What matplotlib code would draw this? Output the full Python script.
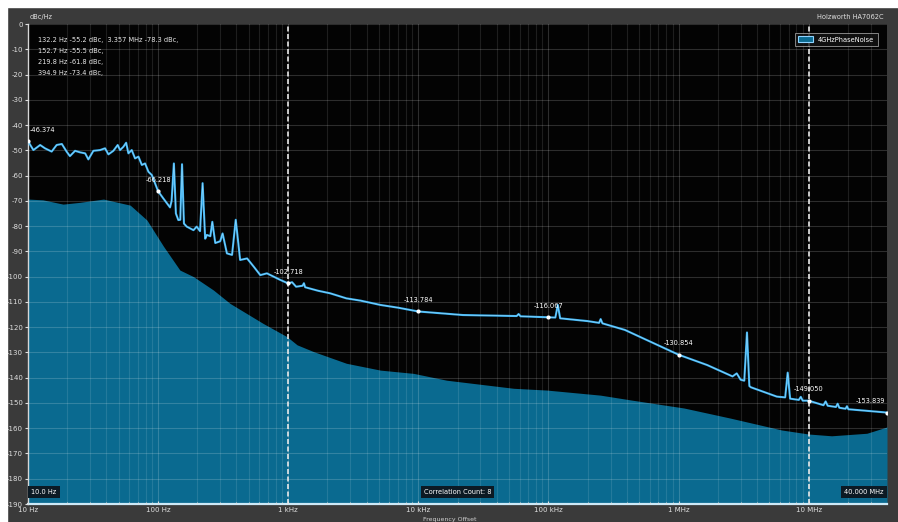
import numpy as np
import matplotlib.pyplot as plt
from matplotlib.patches import Patch, Rectangle
from matplotlib.ticker import FixedLocator, NullFormatter

# DATOS ---------------------------------------------------------------
# Traza medida de ruido de fase (Hz, dBc/Hz)
traza_f = [10, 11, 12.4, 13.5, 15.2, 16.6, 18.2, 19.8, 21, 23, 25.1, 27.5, 29.1,
           31.8, 35.8, 39.1, 41.5, 45.3, 48.9, 51, 54.1, 56.8, 59.1, 62.7, 66.5,
           70.6, 75, 79.4, 84.3, 89.5, 100, 109.5, 123.5, 127, 132.2, 137, 143,
           148, 152.7, 158, 166, 187, 198, 210, 219.8, 230, 237, 252, 261, 275,
           300, 313, 338, 370, 395, 427, 483, 544, 610, 686, 772, 869, 1000,
           1070, 1150, 1290, 1320, 1350, 1700, 2100, 2800, 3600, 5100, 7000,
           10e3, 22e3, 57e3, 59e3, 61e3, 100e3, 113e3, 118e3, 123e3, 200e3,
           245e3, 252e3, 260e3, 387e3, 1e6, 1.66e6, 2.6e6, 2.8e6, 3.0e6, 3.2e6,
           3.357e6, 3.5e6, 3.6e6, 5.7e6, 6.6e6, 6.9e6, 7.2e6, 8.4e6, 8.7e6,
           9.0e6, 10e6, 13e6, 13.5e6, 14e6, 16.2e6, 16.7e6, 17.2e6, 19.2e6,
           19.7e6, 20.2e6, 40e6]
traza_db = [-46.4, -49.9, -47.9, -49.2, -50.5, -47.9, -47.5, -50.5, -52.3, -50.2,
            -50.8, -51.2, -53.6, -50.2, -49.9, -49.2, -51.6, -50.2, -47.9, -49.9,
            -48.6, -47.0, -51.2, -49.9, -53.2, -52.5, -55.8, -55.2, -58.5, -59.8,
            -66.2, -69.0, -72.6, -70.0, -55.2, -75.0, -77.6, -77.5, -55.5, -79.0,
            -80.2, -81.6, -80.2, -82.0, -63.0, -85.0, -83.5, -84.0, -78.3, -86.7,
            -86.0, -82.9, -90.8, -91.4, -77.5, -93.4, -92.8, -96.1, -99.4, -98.7,
            -100.0, -101.3, -102.7, -102.2, -104.0, -103.6, -102.6, -104.2,
            -105.6, -106.6, -108.6, -109.5, -111.2, -112.3, -113.8, -115.2,
            -115.6, -114.8, -115.7, -116.1, -116.2, -111.2, -116.5, -117.6,
            -118.3, -116.8, -118.5, -121.1, -130.9, -135.0, -139.5, -138.3,
            -140.8, -141.2, -122.1, -143.3, -143.8, -147.5, -147.8, -138.0,
            -148.3, -148.8, -147.6, -149.1, -149.1, -150.9, -149.4, -151.1,
            -151.6, -150.3, -151.9, -152.3, -151.3, -152.5, -153.8]

# Limite inferior del sistema (relleno)
fondo_f = [10, 13, 18.6, 25, 38, 61, 82, 110, 147, 187, 266, 357, 480, 640, 980,
           1170, 1570, 2800, 5100, 9200, 16.5e3, 54e3, 97e3, 250e3, 440e3,
           1.1e6, 2.5e6, 6.2e6, 10e6, 15e6, 28e6, 40e6]
fondo_db = [-69.3, -69.6, -71.3, -70.6, -69.3, -71.7, -77.6, -88.0, -97.4,
            -100.0, -105.3, -110.6, -114.6, -118.5, -123.8, -127.0, -129.7,
            -134.3, -137.0, -138.3, -141.0, -144.2, -144.9, -146.9, -148.9,
            -152.0, -156.0, -160.7, -162.3, -163.0, -162.0, -159.5]

# Marcadores
marca_f = [10, 100, 1e3, 10e3, 100e3, 1e6, 10e6, 40e6]
marca_db = [-46.374, -66.218, -102.718, -113.784, -116.067, -130.854, -149.050, -153.839]

# Espurias listadas
espurias = ['132.2 Hz -55.2 dBc,  3.357 MHz -78.3 dBc,',
            '152.7 Hz -55.5 dBc,',
            '219.8 Hz -61.8 dBc,',
            '394.9 Hz -73.4 dBc,']

xt_val = [10, 100, 1e3, 10e3, 100e3, 1e6, 10e6]
xt_txt = ['10 Hz', '100 Hz', '1 kHz', '10 kHz', '100 kHz', '1 MHz', '10 MHz']
yt_val = list(range(0, -200, -10))

# GRAFICA ---------------------------------------------------------------
W, H = 898, 522
fig = plt.figure(figsize=(W / 100, H / 100), dpi=100, facecolor='#3a3a3a')

def px(x, y):
    return x / W, 1 - y / H

# borde blanco superior e izquierdo
fig.patches.append(Rectangle((0, 1 - 7 / H), 1, 7 / H, transform=fig.transFigure,
                             color='white', zorder=0))
fig.patches.append(Rectangle((0, 0), 7 / W, 1, transform=fig.transFigure,
                             color='white', zorder=0))

x0, x1, yt, yb = 28, 887, 24, 504
ax = fig.add_axes([x0 / W, 1 - yb / H, (x1 - x0) / W, (yb - yt) / H])
ax.set_facecolor('#030303')
ax.set_xscale('log')
ax.set_xlim(10, 40e6)
ax.set_ylim(-190, 0)

teal = '#0a6a90'
azul = '#36aff0'
ax.fill_between(fondo_f, fondo_db, -190, color=teal, lw=0, zorder=1)

# rejilla
ax.set_yticks(yt_val)
ax.set_yticklabels([str(v) for v in yt_val])
ax.set_xticks(xt_val)
ax.set_xticklabels(xt_txt)
menores = [m * 10 ** d for d in range(1, 8) for m in range(2, 10) if m * 10 ** d < 40e6]
ax.xaxis.set_minor_locator(FixedLocator(menores))
ax.xaxis.set_minor_formatter(NullFormatter())
ax.grid(True, which='major', color='white', alpha=0.17, lw=0.8, zorder=2)
ax.grid(True, which='minor', color='white', alpha=0.11, lw=0.8, zorder=2)
ax.set_axisbelow(False)
for fv in (1e3, 10e6):
    ax.axvline(fv, color='#e8e8e8', lw=1.2, ls=(0, (3, 1.5)), zorder=2.6)

# traza con brillo
ax.plot(traza_f, traza_db, color=azul, lw=1.5, zorder=3, solid_joinstyle='round')
ax.plot(traza_f, traza_db, color='#a6e0ff', lw=0.5, zorder=3.1, alpha=0.8)

# marcadores
ax.scatter(marca_f, marca_db, s=9, color='white', zorder=4, lw=0)
for i, (fv, dv) in enumerate(zip(marca_f, marca_db)):
    ha = 'center'
    dx = 0
    if i == 0:
        ha, dx = 'left', 1
    elif i == len(marca_f) - 1:
        ha, dx = 'right', -1
    ax.annotate(f'{dv:.3f}', (fv, dv), xytext=(dx, 6), textcoords='offset points',
                ha=ha, va='bottom', fontsize=4.8, color='white', zorder=5)

# ejes
for s in ('top', 'right'):
    ax.spines[s].set_visible(False)
ax.spines['left'].set_color('#d0d0d0')
ax.spines['left'].set_linewidth(1.0)
ax.spines['bottom'].set_color('#cde9f7')
ax.spines['bottom'].set_linewidth(1.6)
ax.tick_params(axis='y', colors='#e0e0e0', labelsize=5, length=2, pad=1.5)
ax.tick_params(axis='x', which='major', colors='#e0e0e0', labelsize=5, length=2,
               pad=2, direction='in')
ax.tick_params(axis='x', which='minor', colors='#e0e0e0', length=1.5, direction='in')
ax.tick_params(axis='x', which='minor', labelbottom=False)

# textos
fig.text(*px(30, 17), 'dBc/Hz', fontsize=4.8, color='#e0e0e0', va='center')
fig.text(*px(884, 17), 'Holzworth HA7062C', fontsize=4.8, color='#e0e0e0',
         va='center', ha='right')
fig.text(*px(450, 519), 'Frequency Offset', fontsize=4.5, color='#d0d0d0',
         va='center', ha='center')
for k, t in enumerate(espurias):
    fig.text(*px(38, 40 + k * 11), t, fontsize=4.8, color='#e8e8e8', va='center')

caja = dict(boxstyle='square,pad=0.45', fc='#0c1a24', ec='none')
ax.text(0.004, 0.018, '10.0 Hz', transform=ax.transAxes, fontsize=4.8,
        color='white', va='bottom', ha='left', bbox=caja, zorder=6)
ax.text(0.5, 0.018, 'Correlation Count: 8', transform=ax.transAxes, fontsize=4.8,
        color='white', va='bottom', ha='center', bbox=caja, zorder=6)
ax.text(0.996, 0.018, '40.000 MHz', transform=ax.transAxes, fontsize=4.8,
        color='white', va='bottom', ha='right', bbox=caja, zorder=6)

ley = ax.legend(handles=[Patch(facecolor=teal, edgecolor='#8fd3ff', lw=0.8,
                               label='4GHzPhaseNoise')],
                loc='upper right', bbox_to_anchor=(0.993, 0.988), fontsize=4.8,
                frameon=True, facecolor='#141414', edgecolor='#bbbbbb',
                labelcolor='white', fancybox=False, handlelength=2.2,
                handleheight=1.0, borderpad=0.5)
ley.get_frame().set_linewidth(0.6)
ley.set_zorder(7)

fig.savefig('out.png', dpi=100, facecolor=fig.get_facecolor())
